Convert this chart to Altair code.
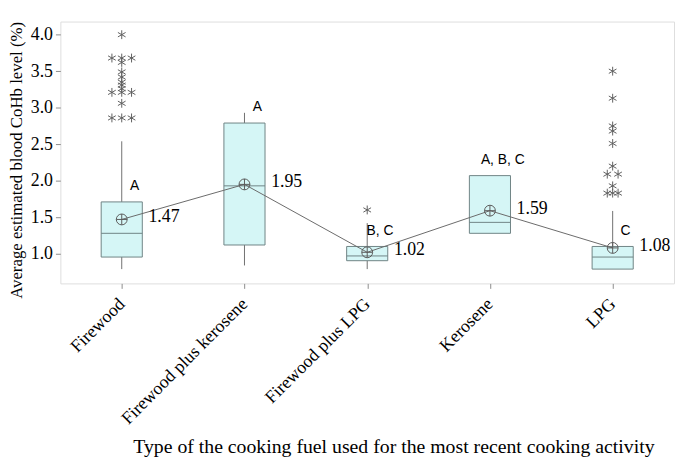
import json
import altair as alt
import pandas as pd

# ---------------- data ----------------
categories = ["Firewood", "Firewood plus kerosene", "Firewood plus LPG", "Kerosene", "LPG"]
q1 = [0.955, 1.12, 0.905, 1.28, 0.79]
median = [1.28, 1.93, 0.97, 1.43, 0.955]
q3 = [1.71, 2.79, 1.10, 2.07, 1.10]
whisker_low = [0.79, 0.84, 0.79, 1.28, 0.79]
whisker_high = [2.54, 2.93, 1.42, 2.07, 1.586]
means = [1.47, 1.95, 1.02, 1.59, 1.08]
letters = ["A", "A", "B, C", "A, B, C", "C"]

outlier_cat = ["Firewood"] * 17 + ["Firewood plus LPG"] + ["LPG"] * 12
outlier_val = [4.00, 3.68, 3.68, 3.68, 3.62, 3.49, 3.42, 3.35, 3.31, 3.26,
               3.21, 3.21, 3.21, 3.06, 2.86, 2.86, 2.86,
               1.60,
               3.50, 3.13, 2.75, 2.68, 2.51, 2.20, 2.09, 2.09, 1.93, 1.83, 1.83, 1.83]
# tie slot (Minitab spreads tied outliers side by side)
outlier_slot = [0, -1, 0, 1, 0, 0, 0, 0, 0, 0,
                -1, 0, 1, 0, -1, 0, 1,
                0,
                0, 0, 0, 0, 0, 0, -0.55, 0.55, 0, -0.55, 0, 0.55]

# ---------------- tables ----------------
box_df = pd.DataFrame({
    "cat": categories,
    "idx": list(range(len(categories))),
    "q1": q1, "median": median, "q3": q3,
    "wlo": whisker_low, "whi": whisker_high,
    "mean": means,
    "mean_label": [f"{m:.2f}" for m in means],
    "letter": letters,
})
out_df = pd.DataFrame({"cat": outlier_cat, "val": outlier_val, "slot": outlier_slot})
out_df["idx"] = out_df["cat"].map({c: i for i, c in enumerate(categories)})

serif = "Liberation Serif"
sans = "Liberation Sans"

xscale = alt.Scale(domain=[-0.5, len(categories) - 0.5], nice=False, zero=False)
yscale = alt.Scale(domain=[0.594, 4.18], nice=False, zero=False)

label_expr = json.dumps(categories) + "[datum.value]"

x_axis = alt.Axis(
    values=list(range(len(categories))),
    labelExpr=label_expr, labelOverlap=False,
    labelAngle=315, labelAlign="right", labelBaseline="middle",
    labelFont=serif, labelFontSize=18, labelColor="black", labelPadding=13,
    tickColor="#8c8c8c", tickSize=5, domain=False, grid=False,
    title="Type of the cooking fuel used for the most recent cooking activity",
    titleFont=serif, titleFontSize=20, titleFontWeight="normal", titleColor="black",
    titleX=337, titleY=171, titleAlign="center", titleBaseline="alphabetic",
)
y_axis = alt.Axis(
    values=[1.0, 1.5, 2.0, 2.5, 3.0, 3.5, 4.0], format=".1f",
    labelFont=serif, labelFontSize=18, labelColor="black", labelPadding=3,
    tickColor="#8c8c8c", tickSize=5, domain=False, grid=False,
    title="Average estimated blood CoHb level (%)",
    titleFont=serif, titleFontSize=17, titleFontWeight="normal", titleColor="black",
    titleX=-44, titleY=140, titleAlign="center", titleBaseline="middle", titleAngle=270,
)


def X(field):
    return alt.X(field, scale=xscale, axis=x_axis)


def Y(field):
    return alt.Y(field, scale=yscale, axis=y_axis)


half = 0.1675
base = alt.Chart(box_df)

whisk_lo = base.mark_rule(color="#707070", strokeWidth=1).encode(
    x=X("idx:Q"), y=Y("wlo:Q"), y2="q1:Q",
)
whisk_hi = base.mark_rule(color="#707070", strokeWidth=1).encode(
    x=X("idx:Q"), y=Y("q3:Q"), y2="whi:Q",
)
boxes = base.transform_calculate(
    xl=f"datum.idx - {half}", xr=f"datum.idx + {half}"
).mark_rect(fill="#d5f6f6", stroke="#6f8384", strokeWidth=1).encode(
    x=X("xl:Q"), x2="xr:Q", y=Y("q1:Q"), y2="q3:Q",
)
medians = base.transform_calculate(
    xl=f"datum.idx - {half}", xr=f"datum.idx + {half}"
).mark_rule(color="#6f8384", strokeWidth=1).encode(
    x=X("xl:Q"), x2="xr:Q", y=Y("median:Q"),
)
mean_line = base.mark_line(color="#6a6a6a", strokeWidth=1).encode(
    x=X("idx:Q"), y=Y("mean:Q"), order="idx:Q",
)
mean_shape = "M-1,0A1,1,0,1,1,1,0A1,1,0,1,1,-1,0ZM-1,0L1,0M0,-1L0,1"
mean_pts = base.mark_point(shape=mean_shape, size=121, filled=False,
                           color="#5a5a5a", strokeWidth=1, opacity=1).encode(
    x=X("idx:Q"), y=Y("mean:Q"),
)
mean_txt = base.mark_text(font=serif, fontSize=18, color="black", align="left",
                          baseline="middle", dx=27, dy=-2).encode(
    x=X("idx:Q"), y=Y("mean:Q"), text="mean_label:N",
)
letter_txt = base.mark_text(font=sans, fontSize=14, color="black", align="center",
                            baseline="middle", dx=13, dy=-16).encode(
    x=X("idx:Q"), y=Y("q3:Q"), text="letter:N",
)
star_shape = "M0,-1L0,1M-0.87,-0.5L0.87,0.5M-0.87,0.5L0.87,-0.5"
outliers = alt.Chart(out_df).transform_calculate(
    xp="datum.idx + datum.slot * 0.08"
).mark_point(shape=star_shape, size=80, filled=False, color="#5f5f5f",
             strokeWidth=1, opacity=1).encode(
    x=X("xp:Q"), y=Y("val:Q"),
)

chart = alt.layer(
    whisk_lo, whisk_hi, boxes, medians, mean_line, mean_pts, mean_txt, letter_txt, outliers
).properties(
    width=621, height=265,
    autosize=alt.AutoSizeParams(type="none"),
    padding={"left": 53, "top": 11, "right": 3, "bottom": 176},
).configure_view(
    stroke="#a3a3a3", strokeWidth=1.5
).configure(background="white")

chart.save("out.html", embed_options={"renderer": "svg", "actions": False})
